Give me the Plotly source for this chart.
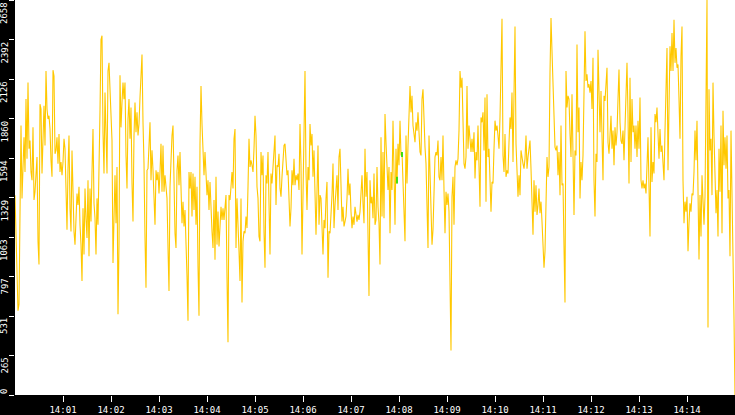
import pandas as pd
import plotly.graph_objects as go

# readings, one value per ~1.25 s, 14:00:00 -> 14:15:00
values = [
    1344, 1123, 789, 567, 611, 1223, 1813, 1323, 1523, 1735, 1501, 1991, 1590, 2102, 1657, 1712, 1501, 1445, 1801, 1312,
    1368, 1490, 1601, 1034, 878, 1957, 1924, 1490, 1735, 1946, 1679, 2180, 1924, 1857, 1879, 1790, 1579, 1468, 2186, 2146,
    1623, 1646, 1735, 1557, 1757, 1501, 1568, 1479, 1568, 1724, 1657, 1323, 1112, 1523, 1746, 1256, 1101, 1646, 1279, 1101,
    1012, 1178, 1356, 1279, 1401, 1145, 1012, 767, 1256, 945, 1390, 1190, 1056, 1445, 934, 1390, 1167, 1501, 1790, 1290,
    1190, 945, 1323, 1145, 1468, 1913, 2391, 2418, 1768, 1490, 2035,
    # 14:01
    1635, 1490, 2180, 2235, 2057, 1902, 1712, 889, 1234, 1479, 1156, 1534, 544, 1012, 2151, 1801, 1968, 2102, 1991, 2102,
    1612, 1390, 1857, 1991, 1724, 1935, 1423, 1167, 1746, 1968, 1768, 1902, 1746, 1824, 2002, 2169, 2291, 1835, 1557, 1056,
    722, 1512, 1523, 1679, 1835, 1445, 1646, 1512, 1223, 1145, 1512, 1445, 1501, 1356, 1501, 1690, 1368, 1679, 1368, 1479,
    1401, 1323, 989, 700, 1401, 1612, 1746, 1813, 1301, 1089, 989, 1512, 1612, 1412, 1635, 1423, 1156, 1301, 1134, 1245,
    1078, 800, 500, 1501, 1390, 1501, 1201, 1490, 1245, 1468,
    # 14:03
    1145, 1401, 867, 533, 1690, 2080, 1824, 1601, 1479, 1635, 1479, 1345, 1445, 1245, 1434, 1178, 1101, 989, 1312, 911,
    1468, 1012, 1234, 1000, 1212, 1267, 1178, 1256, 1178, 1267, 1345, 789, 355, 1345, 1312, 1401, 1501, 1390, 1724, 1790,
    989, 1323, 1190, 967, 767, 1323, 622, 1034, 1101, 1089, 1201, 1123, 1401, 1724, 1534, 1579, 1546, 1501, 1657, 1879,
    1746, 1401, 1323, 1067, 1034, 1635, 1479, 1612, 1101, 856, 1479, 1423, 1635, 1167, 945, 1490, 1423, 1534, 1679, 1746,
    1279, 1546, 1534, 1623, 1390, 1334, 1468, 1579, 1679, 1690,
    # 14:05
    1579, 1479, 1512, 1267, 1134, 1256, 1512, 1412, 1590, 1412, 1479, 1445, 1490, 1379, 1824, 1546, 945, 1345, 1790, 2180,
    1501, 1245, 1534, 1445, 1824, 1679, 1757, 1468, 1646, 1256, 1078, 1368, 1679, 1145, 1345, 1323, 1123, 945, 1178, 1123,
    1323, 1434, 789, 1101, 1089, 1190, 1345, 1557, 1123, 1279, 1390, 1479, 1245, 1601, 1657, 1401, 1167, 1267, 1134, 1167,
    1201, 1323, 1523, 1345, 1423, 1234, 1123, 1201, 1145, 1267, 1223, 1167, 1212, 1178, 1234, 1356, 1479, 1290, 1156, 1657,
    1334, 1501, 1056, 667, 1445, 1290, 1334, 1190, 1490, 1145,
    # 14:07
    1178, 1534, 1267, 1156, 878, 1735, 1201, 1635, 1190, 1890, 1701, 1468, 1379, 1534, 1089, 1501, 1379, 1846, 1356, 1145,
    1657, 1423, 1690, 1546, 1846, 1612, 1635, 1412, 1301, 1034, 1746, 1423, 1679, 1879, 2080, 1902, 2013, 1813, 1735, 1701,
    1835, 1779, 1902, 1768, 1635, 1612, 1991, 2057, 1824, 1668, 1557, 1256, 989, 1746, 1434, 1256, 1012, 1112, 1390, 1601,
    1635, 1612, 1712, 1468, 1445, 1601, 1445, 1746, 1379, 1089, 1368, 1279, 1356, 1234, 756, 300, 1334, 1468, 1145, 1534,
    1579, 1546, 1590, 1779, 2180, 2068, 2135, 1846, 1557, 1523,
    # 14:09
    1601, 2080, 1657, 1813, 1679, 1635, 1724, 1635, 1768, 1457, 1635, 1579, 1813, 1579, 1267, 1868, 1835, 1902, 1646, 2002,
    1301, 2024, 1601, 1657, 1356, 1234, 1434, 1423, 1657, 1846, 1779, 1813, 1746, 1657, 1868, 2302, 2531, 1612, 1501, 1757,
    1468, 1512, 1490, 1701, 1868, 1790, 2035, 1568, 2235, 2480, 1690, 1479, 1334, 1479, 1345, 1646, 1590, 1557, 1523, 1590,
    1746, 1523, 1601, 1657, 1712, 1523, 1212, 1078, 1445, 1234, 1412, 1212, 1279, 1390, 1223, 1301, 1167, 956, 856, 967,
    1279, 1601, 1468, 1534, 2169, 2536, 2313, 2102, 2035, 1668,
    # 14:11
    1646, 1679, 1479, 1635, 1345, 1813, 1412, 1423, 1000, 622, 2180, 1935, 2013, 1991, 1757, 1601, 2024, 1623, 1212, 1646,
    1612, 2358, 1768, 1935, 1323, 1568, 1445, 1612, 2046, 2447, 2113, 2158, 2068, 2091, 2035, 2113, 1924, 2269, 1445, 1201,
    1623, 1568, 2324, 1902, 1768, 2046, 1746, 1445, 2013, 1979, 2091, 2202, 1701, 1623, 1746, 1879, 1657, 1779, 1546, 1801,
    1679, 1768, 1991, 2191, 1835, 1712, 1690, 1779, 1579, 1801, 2013, 2235, 1879, 1423, 2135, 1568, 1991, 1768, 1813, 1657,
    1813, 1601, 1846, 1657, 2002, 1445, 1390, 1445, 1390, 1423,
    # 14:13
    1356, 1635, 1735, 1401, 1067, 1801, 1434, 1568, 1490, 1890, 1835, 1935, 1757, 1590, 1790, 1635, 1679, 1568, 1445, 1779,
    2124, 2335, 1512, 1890, 2347, 2180, 2436, 2180, 2525, 2235, 2335, 2202, 2224, 1991, 1724, 2280, 2480, 1445, 1156, 1301,
    1234, 1334, 967, 1156, 1290, 1234, 1356, 1345, 1501, 1779, 1579, 1846, 1123, 912, 1345, 1067, 1479, 1334, 1145, 1334,
    2080, 2658, 455, 2057, 1646, 1724, 1345, 2102, 1746, 1445, 1223, 1379, 1067, 1657, 1368, 1813, 1089, 1913, 1546, 1735,
    1523, 1746, 1323, 1379, 934, 1779, 1434, 1078, 511, 0,
]

# two short green marks near 14:08
green_idx = [382, 387]
green_lo = [1423, 1601]
green_hi = [1468, 1635]

y_ticks = [0, 265.8, 531.6, 797.4, 1063.2, 1329, 1594.8, 1860.6, 2126.4, 2392.2, 2658]
y_labels = ["0", "265", "531", "797", "1063", "1329", "1594", "1860", "2126", "2392", "2658"]

times = pd.date_range("2024-01-01 14:00:00", periods=len(values), freq="1250ms")
x_ticks = pd.date_range("2024-01-01 14:01:00", "2024-01-01 14:14:00", freq="1min")

YELLOW = "#FFC800"
FONT = "DejaVu Sans Mono"

fig = go.Figure()
fig.add_trace(go.Scatter(x=times, y=values, mode="lines",
                         line=dict(color=YELLOW, width=1.1), hoverinfo="skip"))

gx, gy = [], []
for i, lo, hi in zip(green_idx, green_lo, green_hi):
    gx += [times[i], times[i], None]
    gy += [hi, lo, None]
fig.add_trace(go.Scatter(x=gx, y=gy, mode="lines",
                         line=dict(color="#00E000", width=1.5), hoverinfo="skip"))

# rotated y labels sit just below their tick
for v, t in zip(y_ticks, y_labels):
    fig.add_annotation(x=0, xref="paper", y=v, yref="y", text=t, showarrow=False,
                       textangle=-90, xanchor="right", yanchor="top" if v > 0 else "middle",
                       xshift=-4, yshift=0 if v > 0 else 3,
                       font=dict(family=FONT, size=9, color="white"))

fig.update_layout(
    width=735, height=415,
    margin=dict(l=15, r=0, t=0, b=17),
    paper_bgcolor="black", plot_bgcolor="white",
    showlegend=False,
    xaxis=dict(type="date",
               range=[times[0], times[-1]],
               tickvals=x_ticks, tickformat="%H:%M",
               ticks="outside", ticklen=6, tickcolor="white", tickwidth=1,
               tickfont=dict(family=FONT, size=9, color="white"),
               showgrid=False, zeroline=False, fixedrange=True),
    yaxis=dict(range=[0, 2658], tickvals=y_ticks, showticklabels=False,
               ticks="outside", ticklen=5, tickcolor="white", tickwidth=1,
               showgrid=False, zeroline=False, fixedrange=True),
)

# page has a default body margin; drop it so the chart fills the window
fig.write_html("out.html", config={"displayModeBar": False},
               post_script="document.body.style.margin='0';")
